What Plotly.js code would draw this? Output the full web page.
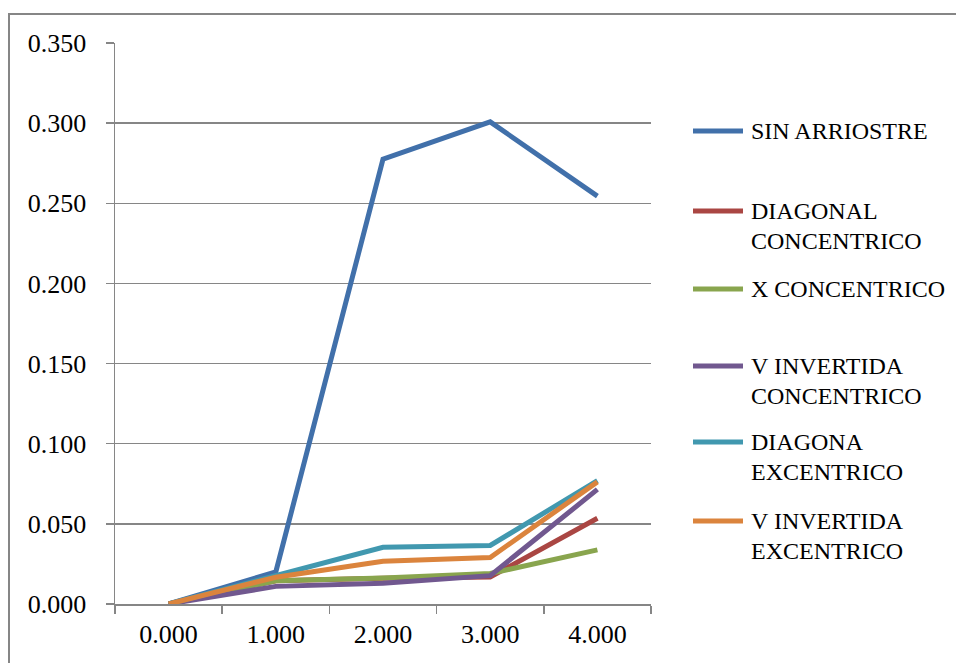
<!DOCTYPE html>
<html>
<head>
<meta charset="utf-8">
<script src="https://cdn.plot.ly/plotly-3.0.1.min.js"></script>
<style>html,body{margin:0;padding:0;background:#fff;}#chart{width:956px;height:663px;}</style>
</head>
<body>
<div id="chart"></div>
<script>
const categories = ['0.000', '1.000', '2.000', '3.000', '4.000'];
const seriesNames = [
  ['SIN ARRIOSTRE'],
  ['DIAGONAL', 'CONCENTRICO'],
  ['X CONCENTRICO'],
  ['V INVERTIDA', 'CONCENTRICO'],
  ['DIAGONA', 'EXCENTRICO'],
  ['V INVERTIDA', 'EXCENTRICO']
];
const sinArriostre = [0, 0.020, 0.2775, 0.3008, 0.2545];
const diagonalConcentrico = [0, 0.0145, 0.0160, 0.0168, 0.0535];
const xConcentrico = [0, 0.0145, 0.0162, 0.0190, 0.0338];
const vInvertidaConcentrico = [0, 0.0110, 0.0130, 0.0177, 0.0715];
const diagonaExcentrico = [0, 0.0175, 0.0354, 0.0365, 0.0770];
const vInvertidaExcentrico = [0, 0.0167, 0.0267, 0.0290, 0.0762];
const yTicks = [0, 0.05, 0.10, 0.15, 0.20, 0.25, 0.30, 0.35];

const seriesValues = [sinArriostre, diagonalConcentrico, xConcentrico, vInvertidaConcentrico, diagonaExcentrico, vInvertidaExcentrico];
const colors = ['#4170AA', '#AA4643', '#89A54E', '#71588F', '#4198AF', '#DB843D'];

const FONT = '"Liberation Serif", "Times New Roman", "DejaVu Serif", serif';
const W = 956, H = 663;
const L = 115, R = 651, T = 43, B = 604;
const px = x => (x - L) / (R - L);
const py = y => (B - y) / (B - T);

const traces = seriesValues.map((vals, i) => ({
  x: categories, y: vals, type: 'scatter', mode: 'lines',
  name: seriesNames[i].join(' '),
  line: {color: colors[i], width: 5},
  showlegend: false, hoverinfo: 'skip'
}));

const legendY = [131, 211, 289, 366, 442, 521];
const shapes = [];
const annotations = [];
seriesNames.forEach((lines, i) => {
  shapes.push({type: 'line', xref: 'paper', yref: 'paper',
    x0: px(693), x1: px(743), y0: py(legendY[i]), y1: py(legendY[i]),
    line: {color: colors[i], width: 5}});
  lines.forEach((t, j) => {
    annotations.push({xref: 'paper', yref: 'paper', x: px(749), y: py(legendY[i] + 30 * j),
      xanchor: 'left', yanchor: 'middle', showarrow: false, text: t,
      font: {family: FONT, size: 24, color: '#000'}});
  });
});
// outer chart border (left and top visible)
shapes.push({type: 'rect', xref: 'paper', yref: 'paper',
  x0: px(9), x1: px(1010), y0: py(14), y1: py(720),
  line: {color: '#868686', width: 2}, layer: 'below'});

const layout = {
  width: W, height: H,
  margin: {l: L, r: W - R, t: T, b: H - B, pad: 0},
  paper_bgcolor: '#fff', plot_bgcolor: '#fff',
  font: {family: FONT, size: 26, color: '#000'},
  xaxis: {
    type: 'category', range: [-0.5, 4.5], tickson: 'boundaries',
    ticks: 'outside', ticklen: 8, tickcolor: '#868686', tickwidth: 1.5,
    showline: true, linecolor: '#868686', linewidth: 1.5,
    showgrid: false, zeroline: false, fixedrange: true,
    tickfont: {family: FONT, size: 26, color: '#000'},
    ticklabelstandoff: 6
  },
  yaxis: {
    range: [0, 0.35], tickvals: yTicks, ticktext: yTicks.map(v => v.toFixed(3)),
    ticks: 'outside', ticklen: 8, tickcolor: '#868686', tickwidth: 1.5,
    showline: true, linecolor: '#868686', linewidth: 1.5,
    showgrid: true, gridcolor: '#868686', gridwidth: 1.5,
    zeroline: false, fixedrange: true,
    tickfont: {family: FONT, size: 26, color: '#000'},
    ticklabelstandoff: 14
  },
  shapes: shapes,
  annotations: annotations,
  showlegend: false
};

Plotly.newPlot('chart', traces, layout, {displayModeBar: false, staticPlot: true});
</script>
</body>
</html>
